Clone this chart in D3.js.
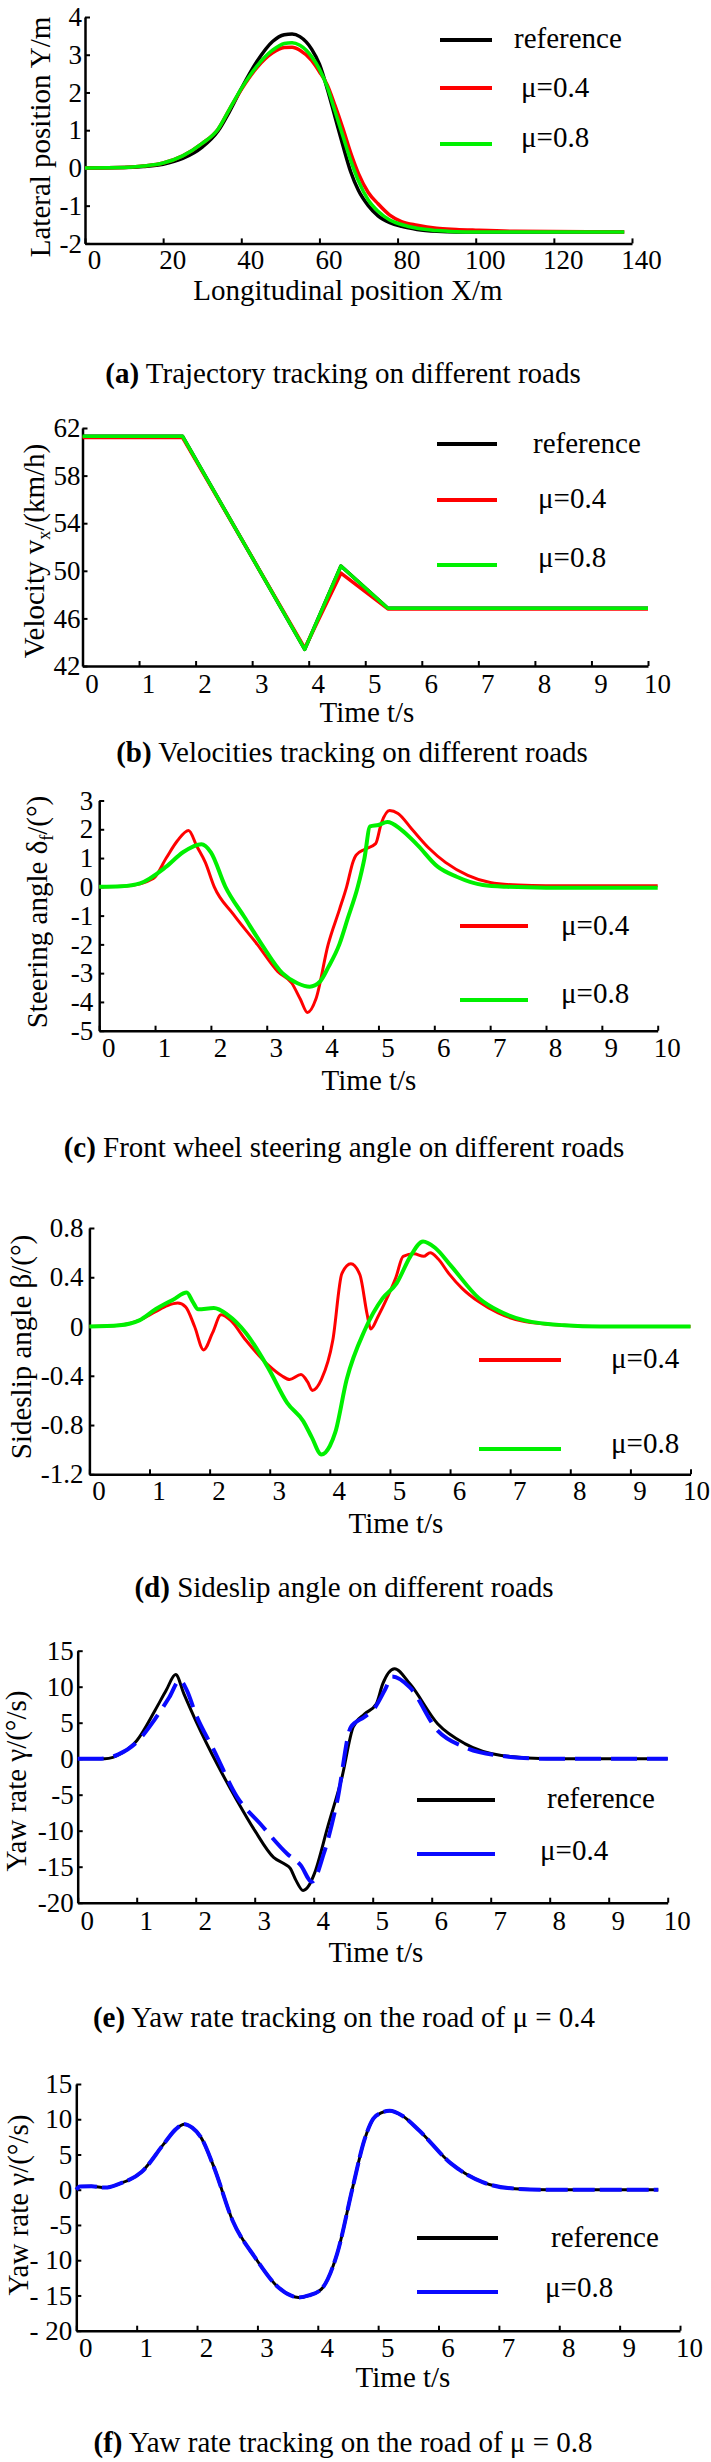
<!DOCTYPE html>
<html>
<head>
<meta charset="utf-8">
<script src="https://cdn.jsdelivr.net/npm/d3@7"></script>
<style>
  body { margin: 0; background: #fff; }
  text { font-family: "Liberation Serif", "Times New Roman", serif; }
</style>
</head>
<body>
<svg id="fig" width="711" height="2462"></svg>
<script>
// (a) trajectory, X in m, Y in m
const trajX      = [0, 10, 15, 20, 25, 30, 34, 37, 40, 44, 48, 51, 53, 55, 58, 60, 62, 64, 66, 68, 70, 72.5, 75, 78, 81, 85, 90, 95, 100, 110, 138]
const trajRef    = [0, 0.01, 0.04, 0.1, 0.25, 0.55, 0.97, 1.5, 2.1, 2.82, 3.35, 3.53, 3.55, 3.48, 3.15, 2.75, 2.1, 1.35, 0.6, -0.1, -0.6, -1.0, -1.27, -1.45, -1.55, -1.63, -1.68, -1.7, -1.7, -1.7, -1.7]
const trajMu04   = [0, 0.01, 0.05, 0.13, 0.32, 0.65, 1.02, 1.56, 2.08, 2.66, 3.05, 3.19, 3.2, 3.12, 2.85, 2.55, 2.2, 1.65, 1.05, 0.4, -0.15, -0.65, -0.95, -1.25, -1.42, -1.52, -1.6, -1.63, -1.65, -1.68, -1.7]
const trajMu08   = [0, 0.01, 0.05, 0.13, 0.32, 0.65, 1.02, 1.56, 2.1, 2.7, 3.12, 3.3, 3.32, 3.25, 2.95, 2.62, 2.15, 1.5, 0.85, 0.2, -0.35, -0.85, -1.15, -1.38, -1.5, -1.6, -1.66, -1.69, -1.7, -1.7, -1.7]

// (b) velocity, km/h
const velT    = [0, 1.77, 3.93, 4.57, 5.4, 10]
const velRef  = [61.3, 61.3, 43.4, 50.4, 46.85, 46.85]
const velMu04 = [61.2, 61.2, 43.5, 49.8, 46.8, 46.8]
const velMu08 = [61.3, 61.3, 43.4, 50.4, 46.85, 46.85]

// (c) front wheel steering angle, deg
const steerT04 = [0, 0.5, 0.97, 1.2, 1.4, 1.6, 1.75, 1.9, 2.06, 2.4, 2.83, 3.2, 3.45, 3.6, 3.73, 3.88, 4.1, 4.3, 4.43, 4.55, 4.6, 4.75, 4.95, 5.05, 5.2, 5.35, 5.6, 5.9, 6.2, 6.6, 7.0, 7.5, 8, 10]
const steerMu04 = [0, 0.03, 0.29, 1.0, 1.6, 1.96, 1.4, 0.85, 0.0, -0.95, -2.0, -2.95, -3.35, -3.9, -4.37, -3.9, -2.0, -0.8, 0.0, 0.9, 1.1, 1.3, 1.5, 2.2, 2.65, 2.55, 2.0, 1.35, 0.85, 0.4, 0.15, 0.06, 0.04, 0.04]
const steerT08 = [0, 0.4, 0.73, 1.2, 1.5, 1.83, 2.0, 2.26, 2.6, 2.91, 3.28, 3.55, 3.77, 3.95, 4.1, 4.3, 4.45, 4.63, 4.75, 4.85, 5.0, 5.16, 5.4, 5.7, 6.06, 6.4, 6.87, 7.3, 8, 10]
const steerMu08 = [0, 0.02, 0.12, 0.7, 1.2, 1.48, 1.2, 0.0, -1.05, -2.0, -3.0, -3.35, -3.47, -3.3, -2.8, -2.0, -1.1, 0.0, 1.0, 2.1, 2.15, 2.25, 2.0, 1.45, 0.7, 0.35, 0.06, 0.0, -0.03, -0.03]

// (d) sideslip angle, deg
const slipT04 = [0, 0.5, 0.83, 1.1, 1.3, 1.47, 1.6, 1.75, 1.9, 2.05, 2.19, 2.35, 2.6, 2.99, 3.2, 3.33, 3.52, 3.63, 3.71, 3.86, 4.05, 4.2, 4.35, 4.5, 4.62, 4.68, 4.8, 4.96, 5.1, 5.22, 5.4, 5.56, 5.67, 5.8, 5.98, 6.2, 6.48, 6.8, 7.24, 7.9, 8.5, 10]
const slipMu04 = [0, 0.01, 0.05, 0.12, 0.17, 0.19, 0.16, 0.0, -0.19, -0.05, 0.095, 0.05, -0.11, -0.32, -0.4, -0.43, -0.39, -0.45, -0.52, -0.43, -0.11, 0.43, 0.51, 0.42, 0.1, -0.02, 0.08, 0.24, 0.4, 0.57, 0.59, 0.57, 0.6, 0.55, 0.43, 0.31, 0.2, 0.11, 0.04, 0.01, 0, 0]
const slipT08 = [0, 0.5, 0.83, 1.1, 1.4, 1.62, 1.72, 1.81, 2.07, 2.3, 2.6, 2.99, 3.29, 3.56, 3.7, 3.86, 4.0, 4.09, 4.28, 4.58, 4.88, 5.11, 5.34, 5.55, 5.75, 6.02, 6.48, 6.8, 7.24, 7.9, 8.5, 10]
const slipMu08 = [0, 0.01, 0.05, 0.14, 0.22, 0.276, 0.2, 0.14, 0.15, 0.095, -0.05, -0.35, -0.62, -0.77, -0.9, -1.04, -0.97, -0.86, -0.43, -0.03, 0.23, 0.35, 0.57, 0.69, 0.64, 0.49, 0.23, 0.13, 0.05, 0.01, 0, 0]

// (e) yaw rate on mu = 0.4, deg/s
const yaw4TRef = [0, 0.46, 0.75, 1.0, 1.31, 1.5, 1.66, 1.8, 2.0, 2.39, 2.7, 3.0, 3.32, 3.5, 3.6, 3.7, 3.82, 3.92, 4.01, 4.24, 4.48, 4.67, 4.86, 5.06, 5.17, 5.37, 5.63, 6.1, 6.56, 7.18, 7.95, 10]
const yaw4Ref  = [0, 0, 0.8, 2.5, 6.7, 9.5, 11.7, 9.0, 5.3, -1.16, -5.8, -9.96, -13.7, -14.6, -15.2, -16.9, -18.3, -17.6, -16, -9.4, -2.55, 4.4, 6.2, 7.6, 10.4, 12.5, 10.4, 4.86, 2.1, 0.45, 0, 0]
const yaw4TMu  = [0, 0.4, 0.69, 1.0, 1.31, 1.55, 1.73, 1.85, 2.0, 2.31, 2.7, 3.09, 3.55, 3.78, 3.97, 4.17, 4.4, 4.63, 4.86, 5.02, 5.21, 5.33, 5.63, 6.1, 6.56, 7.18, 7.9, 10]
const yaw4Mu   = [0, 0, 0.6, 2.3, 5.5, 8.5, 10.9, 9.5, 6.2, 1.15, -5.3, -9.0, -13.2, -14.8, -17.1, -13.2, -5.8, 4.4, 5.8, 6.9, 9.6, 11.4, 9.9, 3.9, 1.6, 0.4, 0, 0]

// (f) yaw rate on mu = 0.8, deg/s
const yaw8T   = [0, 0.06, 0.25, 0.48, 0.7, 1.08, 1.45, 1.65, 1.79, 1.92, 2.06, 2.28, 2.59, 2.96, 3.34, 3.55, 3.68, 3.85, 4.06, 4.32, 4.58, 4.77, 4.92, 5.05, 5.19, 5.4, 5.68, 6.21, 6.73, 7.26, 7.8, 9.64]
const yaw8Ref = [0, 0.47, 0.5, 0.3, 0.8, 2.5, 6.5, 8.6, 9.3, 8.8, 7.5, 3.2, -4.4, -9.6, -13.8, -15.0, -15.3, -15.0, -14.1, -9.1, 0.4, 7.0, 10.1, 10.9, 11.2, 10.5, 8.4, 3.7, 1.08, 0.15, 0, 0]
const yaw8Mu  = [0, 0.47, 0.5, 0.3, 0.8, 2.5, 6.5, 8.6, 9.3, 8.8, 7.5, 3.2, -4.4, -9.6, -13.8, -15.0, -15.3, -15.0, -14.1, -9.1, 0.4, 7.0, 10.1, 10.9, 11.2, 10.5, 8.4, 3.7, 1.08, 0.15, 0, 0]

// tick values
const ticksTime = [0, 1, 2, 3, 4, 5, 6, 7, 8, 9, 10]
const ticksTrajX = [0, 20, 40, 60, 80, 100, 120, 140]
const ticksTrajY = [-2, -1, 0, 1, 2, 3, 4]
const ticksVel = [42, 46, 50, 54, 58, 62]
const ticksSteer = [-5, -4, -3, -2, -1, 0, 1, 2, 3]
const ticksSlip = [-1.2, -0.8, -0.4, 0, 0.4, 0.8]
const ticksYaw = [-20, -15, -10, -5, 0, 5, 10, 15]

const BLACK = '#000', RED = '#ff0000', GREEN = '#00f000', BLUE = '#0a0aff'
const FS = 29       // titres, légendes
const TICK_FS = 27  // graduations

const svg = d3.select('#fig')

function drawPanel(p) {
    const x = d3.scaleLinear().domain(p.xDomain).range(p.xRange)
    const y = d3.scaleLinear().domain(p.yDomain).range(p.yRange)
    const g = svg.append('g')

    // axes : ticks vers l'intérieur
    const gy = g.append('g')
        .attr('transform', `translate(${p.xRange[0]},0)`)
        .call(d3.axisLeft(y).tickValues(p.yTicks).tickSizeInner(-5).tickSizeOuter(0).tickPadding(p.yPad)
            .tickFormat(p.yFormat || (d => String(d))))
    const gx = g.append('g')
        .attr('transform', `translate(0,${p.yRange[0]})`)
        .call(d3.axisBottom(x).tickValues(p.xTicks).tickSizeInner(-5).tickSizeOuter(0).tickPadding(p.xPad)
            .tickFormat(d => String(d)))

    for (const a of [gx, gy]) {
        a.attr('font-family', null).attr('font-size', null)
        a.select('.domain').attr('stroke-width', 2.5)
        a.selectAll('.tick line').attr('stroke-width', 2)
        a.selectAll('text').attr('font-size', TICK_FS).attr('fill', '#000')
    }
    // labels décalés vers la droite, sans sortir du cadre
    gx.selectAll('text').attr('dx', d => Math.min(9, 696 - x(d)))

    // courbes
    for (const s of p.series) {
        const line = d3.line()
            .x(d => x(d[0]))
            .y(d => y(d[1]))
            .curve(p.curve || d3.curveMonotoneX)
        g.append('path')
            .datum(d3.zip(s.t, s.v))
            .attr('d', line)
            .attr('fill', 'none')
            .attr('stroke', s.color)
            .attr('stroke-width', s.width || 3.5)
            .attr('stroke-dasharray', s.dash || null)
            .attr('stroke-linejoin', 'round')
    }

    // titres des axes
    g.append('text')
        .attr('x', p.xTitle.x).attr('y', p.xTitle.y)
        .attr('text-anchor', 'middle').attr('font-size', FS)
        .text(p.xTitle.text)

    const yt = g.append('text')
        .attr('transform', `translate(${p.yTitle.x},${p.yTitle.y}) rotate(-90)`)
        .attr('text-anchor', 'middle').attr('font-size', FS)
    for (const part of p.yTitle.parts) {
        if (part.sub) {
            yt.append('tspan').attr('font-size', 18).attr('dy', 6).text(part.sub)
            yt.append('tspan').attr('dy', -6).text(part.after)
        } else {
            yt.append('tspan').text(part.text)
        }
    }

    // légende
    for (const l of p.legend) {
        g.append('line')
            .attr('x1', p.legendX[0]).attr('x2', p.legendX[1])
            .attr('y1', l.y).attr('y2', l.y)
            .attr('stroke', l.color).attr('stroke-width', 4)
        g.append('text')
            .attr('x', l.tx).attr('y', l.ty)
            .attr('font-size', FS)
            .text(l.label)
    }

    // légende de la figure
    const cap = g.append('text')
        .attr('x', p.caption.x).attr('y', p.caption.y)
        .attr('text-anchor', 'middle').attr('font-size', FS)
    cap.append('tspan').attr('font-weight', 'bold').text(p.caption.tag)
    cap.append('tspan').text(' ' + p.caption.text)
}

drawPanel({
    xDomain: [0, 140], xRange: [85, 632],
    yDomain: [-2, 4], yRange: [243.4, 17],
    xTicks: ticksTrajX, yTicks: ticksTrajY, xPad: 6, yPad: 3,
    series: [
        { t: trajX, v: trajRef, color: BLACK },
        { t: trajX, v: trajMu04, color: RED },
        { t: trajX, v: trajMu08, color: GREEN },
    ],
    xTitle: { text: 'Longitudinal position X/m', x: 348, y: 300 },
    yTitle: { x: 50, y: 137, parts: [{ text: 'Lateral position  Y/m' }] },
    legendX: [440, 492],
    legend: [
        { label: 'reference', color: BLACK, y: 40, tx: 514, ty: 48 },
        { label: 'μ=0.4', color: RED, y: 88, tx: 521, ty: 97 },
        { label: 'μ=0.8', color: GREEN, y: 144, tx: 521, ty: 147 },
    ],
    caption: { tag: '(a)', text: 'Trajectory tracking on different roads', x: 343, y: 383 },
})

drawPanel({
    xDomain: [0, 10], xRange: [82.5, 648],
    yDomain: [42, 62], yRange: [666, 428],
    xTicks: ticksTime, yTicks: ticksVel, xPad: 8, yPad: 2,
    curve: d3.curveLinear,
    series: [
        { t: velT, v: velRef, color: BLACK },
        { t: velT, v: velMu04, color: RED },
        { t: velT, v: velMu08, color: GREEN },
    ],
    xTitle: { text: 'Time t/s', x: 367, y: 722 },
    yTitle: { x: 44, y: 551, parts: [{ text: 'Velocity v' }, { sub: 'x', after: '/(km/h)' }] },
    legendX: [437, 497],
    legend: [
        { label: 'reference', color: BLACK, y: 444, tx: 533, ty: 453 },
        { label: 'μ=0.4', color: RED, y: 500, tx: 538, ty: 508 },
        { label: 'μ=0.8', color: GREEN, y: 565, tx: 538, ty: 567 },
    ],
    caption: { tag: '(b)', text: 'Velocities tracking on different roads', x: 352, y: 762 },
})

drawPanel({
    xDomain: [0, 10], xRange: [99.2, 657.7],
    yDomain: [-5, 3], yRange: [1030.7, 800.5],
    xTicks: ticksTime, yTicks: ticksSteer, xPad: 7, yPad: 6,
    series: [
        { t: steerT04, v: steerMu04, color: RED, width: 3 },
        { t: steerT08, v: steerMu08, color: GREEN, width: 4 },
    ],
    xTitle: { text: 'Time t/s', x: 369, y: 1090 },
    yTitle: { x: 47, y: 912, parts: [{ text: 'Steering angle δ' }, { sub: 'f', after: '/(°)' }] },
    legendX: [460, 528],
    legend: [
        { label: 'μ=0.4', color: RED, y: 926, tx: 561, ty: 935 },
        { label: 'μ=0.8', color: GREEN, y: 1000, tx: 561, ty: 1003 },
    ],
    caption: { tag: '(c)', text: 'Front wheel steering angle on different roads', x: 344, y: 1157 },
})

drawPanel({
    xDomain: [0, 10], xRange: [89.4, 690.5],
    yDomain: [-1.2, 0.8], yRange: [1474.3, 1228],
    xTicks: ticksTime, yTicks: ticksSlip, xPad: 7, yPad: 6,
    series: [
        { t: slipT04, v: slipMu04, color: RED, width: 3 },
        { t: slipT08, v: slipMu08, color: GREEN, width: 4 },
    ],
    xTitle: { text: 'Time t/s', x: 396, y: 1533 },
    yTitle: { x: 31, y: 1347, parts: [{ text: 'Sideslip angle β/(°)' }] },
    legendX: [479, 561],
    legend: [
        { label: 'μ=0.4', color: RED, y: 1360, tx: 611, ty: 1368 },
        { label: 'μ=0.8', color: GREEN, y: 1449, tx: 611, ty: 1453 },
    ],
    caption: { tag: '(d)', text: 'Sideslip angle on different roads', x: 344, y: 1597 },
})

drawPanel({
    xDomain: [0, 10], xRange: [77.7, 667.7],
    yDomain: [-20, 15], yRange: [1902.7, 1650.7],
    xTicks: ticksTime, yTicks: ticksYaw, xPad: 8, yPad: 4,
    series: [
        { t: yaw4TRef, v: yaw4Ref, color: BLACK, width: 3 },
        { t: yaw4TMu, v: yaw4Mu, color: BLUE, width: 4, dash: '26,10' },
    ],
    xTitle: { text: 'Time t/s', x: 376, y: 1962 },
    yTitle: { x: 26, y: 1781, parts: [{ text: 'Yaw rate γ/(°/s)' }] },
    legendX: [417, 495],
    legend: [
        { label: 'reference', color: BLACK, y: 1800, tx: 547, ty: 1808 },
        { label: 'μ=0.4', color: BLUE, y: 1854, tx: 540, ty: 1860 },
    ],
    caption: { tag: '(e)', text: 'Yaw rate tracking on the road of μ = 0.4', x: 344, y: 2027 },
})

drawPanel({
    xDomain: [0, 10], xRange: [76.3, 680],
    yDomain: [-20, 15], yRange: [2330.7, 2084],
    xTicks: ticksTime, yTicks: ticksYaw, xPad: 7, yPad: 4,
    yFormat: d => d <= -10 ? '- ' + Math.abs(d) : String(d),
    series: [
        { t: yaw8T, v: yaw8Ref, color: BLACK, width: 3 },
        { t: yaw8T, v: yaw8Mu, color: BLUE, width: 4, dash: '22,5' },
    ],
    xTitle: { text: 'Time t/s', x: 403, y: 2387 },
    yTitle: { x: 28, y: 2205, parts: [{ text: 'Yaw rate γ/(°/s)' }] },
    legendX: [417, 498],
    legend: [
        { label: 'reference', color: BLACK, y: 2238, tx: 551, ty: 2247 },
        { label: 'μ=0.8', color: BLUE, y: 2292, tx: 545, ty: 2297 },
    ],
    caption: { tag: '(f)', text: 'Yaw rate tracking on the road of μ = 0.8', x: 343, y: 2452 },
})
</script>
</body>
</html>
